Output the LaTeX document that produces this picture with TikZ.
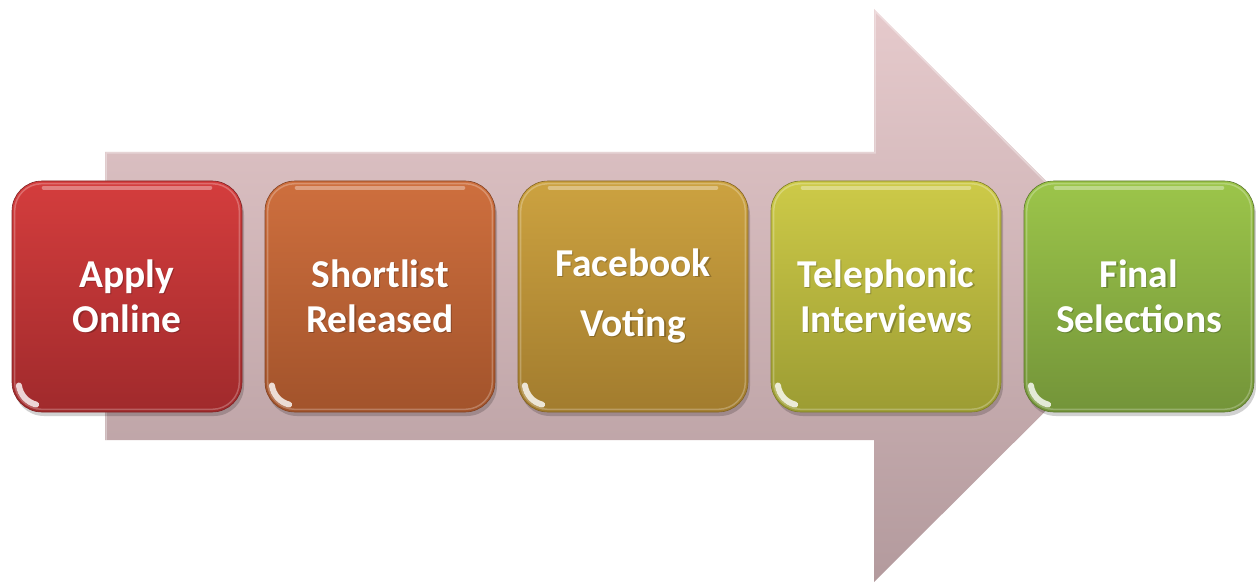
\documentclass[tikz,border=0pt]{standalone}
\usepackage{fontspec}
\setmainfont{Carlito}
\usetikzlibrary{calc}
\definecolor{arrowtop}{HTML}{E6CACC}
\definecolor{arrowbot}{HTML}{B39A9D}
\definecolor{rTop}{HTML}{D43D3D}
\definecolor{rBot}{HTML}{A02A2C}
\definecolor{oTop}{HTML}{CE6F3E}
\definecolor{oBot}{HTML}{A2532B}
\definecolor{gTop}{HTML}{CCA240}
\definecolor{gBot}{HTML}{A27C2E}
\definecolor{yTop}{HTML}{CDCA48}
\definecolor{yBot}{HTML}{9C9C33}
\definecolor{lTop}{HTML}{9CC54A}
\definecolor{lBot}{HTML}{739439}
\tikzset{
  boxshape/.style={minimum width=230pt, minimum height=231pt, rounded corners=30pt, inner sep=0pt},
  boxtext/.style={text=white, align=center, inner sep=0pt},
  shadowtext/.style={text=black, text opacity=0.22, align=center, inner sep=0pt},
  glint/.style={white, line width=6pt, line cap=round, opacity=0.8},
  tophl/.style={white, line width=4pt, line cap=round, opacity=0.35},
}
% #1 name, #2 centre x, #3 top colour, #4 bottom colour, #5 text, #6 baselineskip
\newcommand{\glossbox}[6]{%
  \fill[black, opacity=0.18, rounded corners=30pt] (#2-113,185) rectangle (#2+117,416);
  \node[boxshape, top color=#3, bottom color=#4, draw=#4!80!black, line width=0.6pt] (#1) at (#2,296.5) {};
  \draw[white, opacity=0.25, line width=1.5pt, rounded corners=27pt]
     ($(#1.north west)+(3,3)$) rectangle ($(#1.south east)+(-3,-3)$);
  \draw[tophl] ($(#1.north west)+(32,7)$) -- ($(#1.north east)+(-32,7)$);
  \draw[glint] ($(#1.south west)+(30,-30)+(172:23)$) arc[start angle=172, end angle=104, radius=23];
  \node[shadowtext, font=\bfseries\fontsize{39.5}{#6}\selectfont] (#1s) at (#2+1.2,297.2) {#5};
  \node[boxtext, font=\bfseries\fontsize{39.5}{#6}\selectfont] (#1t) at (#2,296) {#5};
}
\begin{document}
\begin{tikzpicture}[x=1pt, y=-1pt]
\useasboundingbox (0,0) rectangle (1256,583);
% big arrow
\shade[top color=arrowtop, bottom color=arrowbot]
  (105,152) -- (874,152) -- (874,9) -- (1161,296) -- (874,582) -- (874,440) -- (105,440) -- cycle;
\draw[white, opacity=0.35, line width=1.5pt]
  (106,440) -- (106,153) -- (875,153) -- (875,11) -- (1159,296);
% boxes
\glossbox{b1}{127}{rTop}{rBot}{Apply\\Online}{45}
\glossbox{b2}{380}{oTop}{oBot}{Shortlist\\Released}{45}
\glossbox{b3}{633}{gTop}{gBot}{Facebook\\Voting}{60}
\glossbox{b4}{886}{yTop}{yBot}{Telephonic\\Interviews}{45}
\glossbox{b5}{1139}{lTop}{lBot}{Final\\Selections}{45}
\end{tikzpicture}
\end{document}
